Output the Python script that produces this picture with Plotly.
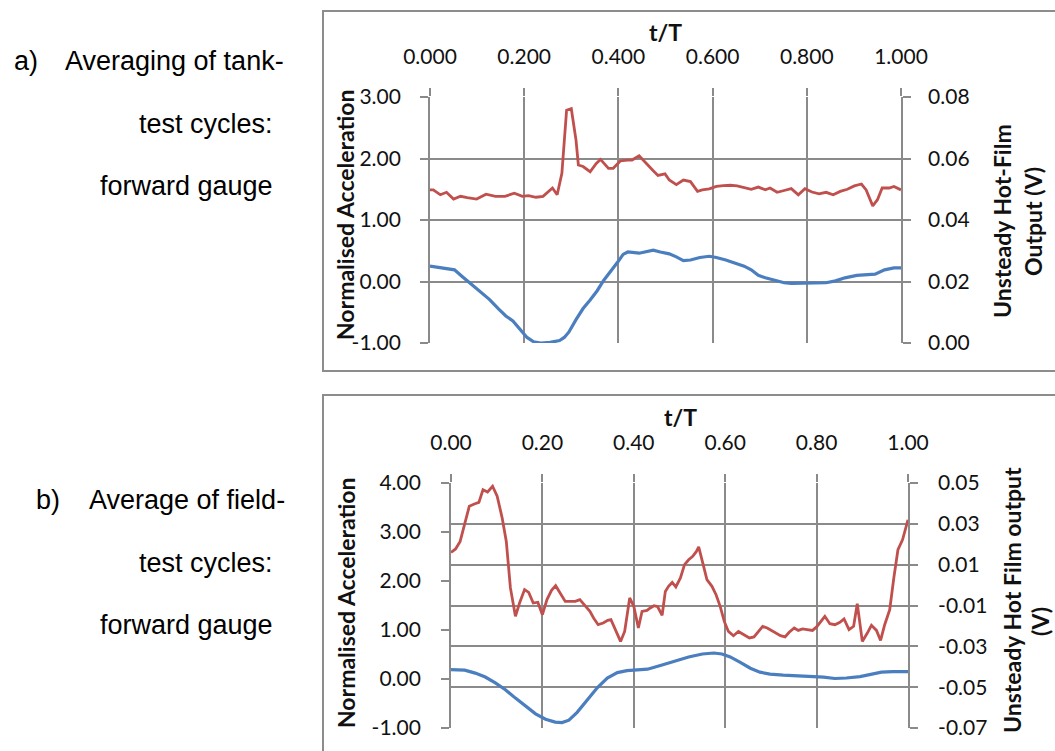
import plotly.graph_objects as go

W, H = 1055, 751

# ---------------- (a) tank-test cycles, forward gauge ----------------
tank_acc_t = [0.000, 0.017, 0.037, 0.052, 0.067, 0.086, 0.106, 0.126, 0.146, 0.161,
              0.176, 0.191, 0.206, 0.220, 0.235, 0.255, 0.275, 0.285, 0.295, 0.310,
              0.325, 0.340, 0.355, 0.369, 0.384, 0.399, 0.410, 0.420, 0.444, 0.459,
              0.474, 0.489, 0.508, 0.523, 0.538, 0.553, 0.573, 0.593, 0.608, 0.628,
              0.647, 0.667, 0.682, 0.697, 0.712, 0.732, 0.752, 0.767, 0.791, 0.816,
              0.841, 0.861, 0.881, 0.906, 0.930, 0.945, 0.965, 0.985, 1.000]
tank_acc = [0.25, 0.23, 0.21, 0.19, 0.09, -0.03, -0.15, -0.29, -0.45, -0.56,
            -0.64, -0.78, -0.91, -0.98, -1.00, -0.99, -0.96, -0.91, -0.82, -0.62,
            -0.44, -0.30, -0.15, 0.02, 0.16, 0.32, 0.44, 0.48, 0.46, 0.49,
            0.51, 0.48, 0.45, 0.40, 0.34, 0.35, 0.39, 0.41, 0.39, 0.35,
            0.30, 0.25, 0.19, 0.10, 0.06, 0.02, -0.02, -0.03, -0.03, -0.02,
            -0.02, 0.01, 0.06, 0.10, 0.11, 0.12, 0.19, 0.22, 0.22]

tank_hf_t = [0.000, 0.007, 0.022, 0.035, 0.050, 0.065, 0.079, 0.099, 0.119, 0.139,
             0.159, 0.179, 0.196, 0.209, 0.225, 0.240, 0.260, 0.270, 0.280, 0.290,
             0.300, 0.310, 0.315, 0.325, 0.340, 0.353, 0.362, 0.379, 0.389, 0.404,
             0.419, 0.429, 0.444, 0.454, 0.464, 0.474, 0.484, 0.499, 0.508, 0.523,
             0.538, 0.553, 0.568, 0.578, 0.593, 0.608, 0.623, 0.638, 0.652, 0.667,
             0.682, 0.697, 0.712, 0.722, 0.737, 0.752, 0.767, 0.782, 0.796, 0.811,
             0.826, 0.841, 0.856, 0.871, 0.886, 0.901, 0.916, 0.926, 0.940, 0.950,
             0.960, 0.975, 0.985, 1.000]
tank_hf = [0.0498, 0.0498, 0.0482, 0.0490, 0.0468, 0.0477, 0.0473, 0.0468, 0.0484, 0.0477,
           0.0477, 0.0487, 0.0477, 0.0479, 0.0474, 0.0477, 0.0504, 0.0482, 0.0552, 0.0757,
           0.0762, 0.0660, 0.0579, 0.0574, 0.0557, 0.0584, 0.0597, 0.0568, 0.0568, 0.0592,
           0.0595, 0.0595, 0.0609, 0.0592, 0.0577, 0.0560, 0.0545, 0.0550, 0.0530, 0.0515,
           0.0530, 0.0525, 0.0493, 0.0498, 0.0501, 0.0509, 0.0512, 0.0513, 0.0511, 0.0506,
           0.0500, 0.0507, 0.0498, 0.0504, 0.0490, 0.0496, 0.0502, 0.0482, 0.0502, 0.0491,
           0.0485, 0.0490, 0.0482, 0.0493, 0.0500, 0.0511, 0.0517, 0.0498, 0.0446, 0.0466,
           0.0504, 0.0504, 0.0509, 0.0498]

# ---------------- (b) field-test cycles, forward gauge ----------------
field_acc_t = [0.000, 0.030, 0.053, 0.075, 0.097, 0.119, 0.141, 0.163, 0.185, 0.207,
               0.228, 0.243, 0.258, 0.276, 0.298, 0.320, 0.342, 0.364, 0.385, 0.407,
               0.430, 0.460, 0.490, 0.520, 0.550, 0.575, 0.593, 0.611, 0.633, 0.655,
               0.676, 0.698, 0.727, 0.764, 0.793, 0.815, 0.840, 0.865, 0.895, 0.920,
               0.942, 0.967, 1.000]
field_acc = [0.19, 0.18, 0.12, 0.04, -0.08, -0.22, -0.39, -0.56, -0.71, -0.82,
             -0.88, -0.89, -0.84, -0.68, -0.43, -0.18, 0.02, 0.13, 0.17, 0.18,
             0.20, 0.28, 0.37, 0.45, 0.51, 0.53, 0.51, 0.45, 0.34, 0.22,
             0.14, 0.10, 0.08, 0.07, 0.06, 0.04, 0.01, 0.02, 0.05, 0.09,
             0.14, 0.15, 0.15]

field_hf_t = [0.000, 0.010, 0.020, 0.029, 0.040, 0.051, 0.061, 0.070, 0.080, 0.091,
              0.101, 0.112, 0.121, 0.130, 0.141, 0.150, 0.161, 0.170, 0.180, 0.190,
              0.200, 0.210, 0.220, 0.229, 0.239, 0.250, 0.261, 0.272, 0.282, 0.292,
              0.304, 0.312, 0.322, 0.333, 0.343, 0.350, 0.360, 0.371, 0.380, 0.391,
              0.400, 0.410, 0.418, 0.429, 0.436, 0.444, 0.452, 0.462, 0.469, 0.476,
              0.484, 0.492, 0.502, 0.511, 0.520, 0.529, 0.537, 0.542, 0.551, 0.560,
              0.571, 0.580, 0.589, 0.598, 0.607, 0.618, 0.629, 0.641, 0.653, 0.663,
              0.673, 0.682, 0.692, 0.702, 0.711, 0.721, 0.731, 0.740, 0.751, 0.760,
              0.769, 0.780, 0.791, 0.800, 0.809, 0.818, 0.829, 0.840, 0.851, 0.860,
              0.871, 0.881, 0.889, 0.900, 0.911, 0.920, 0.931, 0.940, 0.949, 0.960,
              0.969, 0.978, 0.988, 0.995, 1.000]
field_hf = [0.0160, 0.0177, 0.0214, 0.0288, 0.0386, 0.0397, 0.0405, 0.0467, 0.0456, 0.0484,
            0.0435, 0.0329, 0.0214, -0.0014, -0.0153, -0.0088, -0.0022, -0.0036, -0.0088, -0.0084,
            -0.0145, -0.0071, -0.0026, -0.0003, -0.0042, -0.0080, -0.0080, -0.0080, -0.0071, -0.0098,
            -0.0129, -0.0161, -0.0194, -0.0186, -0.0173, -0.0169, -0.0218, -0.0276, -0.0227, -0.0063,
            -0.0104, -0.0210, -0.0129, -0.0124, -0.0112, -0.0101, -0.0105, -0.0148, -0.0031, -0.0006,
            0.0013, -0.0009, 0.0035, 0.0100, 0.0124, 0.0141, 0.0165, 0.0187, 0.0108, 0.0027,
            -0.0006, -0.0047, -0.0104, -0.0178, -0.0227, -0.0248, -0.0227, -0.0243, -0.0259, -0.0254,
            -0.0227, -0.0202, -0.0210, -0.0222, -0.0235, -0.0248, -0.0254, -0.0231, -0.0210, -0.0222,
            -0.0215, -0.0218, -0.0222, -0.0205, -0.0178, -0.0153, -0.0189, -0.0194, -0.0182, -0.0166,
            -0.0218, -0.0202, -0.0091, -0.0276, -0.0235, -0.0197, -0.0222, -0.0271, -0.0194, -0.0120,
            0.0035, 0.0173, 0.0222, 0.0280, 0.0320]

# ---------------- tick values and labels ----------------
t_ticks = [0.0, 0.2, 0.4, 0.6, 0.8, 1.0]
t_labels_a = ["0.000", "0.200", "0.400", "0.600", "0.800", "1.000"]
t_labels_b = ["0.00", "0.20", "0.40", "0.60", "0.80", "1.00"]

acc_ticks_a = [-1, 0, 1, 2, 3]
acc_labels_a = ["-1.00", "0.00", "1.00", "2.00", "3.00"]
hf_ticks_a = [0.0, 0.02, 0.04, 0.06, 0.08]
hf_labels_a = ["0.00", "0.02", "0.04", "0.06", "0.08"]

acc_ticks_b = [-1, 0, 1, 2, 3, 4]
acc_labels_b = ["-1.00", "0.00", "1.00", "2.00", "3.00", "4.00"]
hf_ticks_b = [-0.07, -0.05, -0.03, -0.01, 0.01, 0.03, 0.05]
hf_labels_b = ["-0.07", "-0.05", "-0.03", "-0.01", "0.01", "0.03", "0.05"]

# ---------------- styling ----------------
BLUE = "#4A7EBF"
RED = "#C0504D"
GRID = "#8a8a8a"
FONT = "Lato, Carlito, Calibri, sans-serif"
TICKFONT = dict(family=FONT, size=21, color="#111111")


def px(x):
    return x / W


def py(y):
    return 1 - y / H


fig = go.Figure()
fig.add_trace(go.Scatter(x=tank_acc_t, y=tank_acc, mode="lines", xaxis="x", yaxis="y",
                         line=dict(color=BLUE, width=3.2), showlegend=False))
fig.add_trace(go.Scatter(x=tank_hf_t, y=tank_hf, mode="lines", xaxis="x", yaxis="y2",
                         line=dict(color=RED, width=2.8), showlegend=False))
fig.add_trace(go.Scatter(x=field_acc_t, y=field_acc, mode="lines", xaxis="x2", yaxis="y3",
                         line=dict(color=BLUE, width=3.2), showlegend=False))
fig.add_trace(go.Scatter(x=field_hf_t, y=field_hf, mode="lines", xaxis="x2", yaxis="y4",
                         line=dict(color=RED, width=2.8), showlegend=False))

common_axis = dict(zeroline=False, automargin=False, tickfont=TICKFONT, tickcolor=GRID,
                   tickwidth=1.5, gridcolor=GRID, gridwidth=1.8, linecolor=GRID,
                   linewidth=1.8)


def xaxis(domain, anchor, labels):
    return dict(common_axis, domain=domain, anchor=anchor, side="top", range=[0, 1],
                tickmode="array", tickvals=t_ticks, ticktext=labels,
                showgrid=True, showline=False, ticks="outside", ticklen=8,
                ticklabelstandoff=16)


def yaxis(domain, anchor, rng, vals, labels, side="left", grid=True, overlay=None,
          standoff=14):
    d = dict(common_axis, anchor=anchor, side=side, range=rng, tickmode="array",
             tickvals=vals, ticktext=labels, showgrid=grid, showline=True,
             ticks="outside", ticklen=8, ticklabelstandoff=standoff)
    if overlay:
        d["overlaying"] = overlay
    else:
        d["domain"] = domain
    return d


top_x = [px(430), px(901)]
top_y = [py(343), py(97)]
bot_x = [px(451), px(908)]
bot_y = [py(728), py(483)]

fig.update_layout(
    template="none",
    width=W, height=H,
    margin=dict(l=0, r=0, t=0, b=0, pad=0, autoexpand=False),
    paper_bgcolor="white", plot_bgcolor="white",
    showlegend=False,
    xaxis=xaxis(top_x, "y", t_labels_a),
    yaxis=yaxis(top_y, "x", [-1, 3], acc_ticks_a, acc_labels_a, standoff=15),
    yaxis2=yaxis(None, "x", [0, 0.08], hf_ticks_a, hf_labels_a, side="right",
                 grid=False, overlay="y", standoff=13),
    xaxis2=xaxis(bot_x, "y3", t_labels_b),
    yaxis3=yaxis(bot_y, "x2", [-1, 4], acc_ticks_b, acc_labels_b, grid=False, standoff=16),
    yaxis4=yaxis(None, "x2", [-0.07, 0.05], hf_ticks_b, hf_labels_b, side="right",
                 grid=True, overlay="y3", standoff=16),
)

# chart frames
fig.add_shape(type="rect", xref="paper", yref="paper", x0=px(323), x1=1.02,
              y0=py(371), y1=py(11), line=dict(color="#8c8c8c", width=2), layer="below")
fig.add_shape(type="rect", xref="paper", yref="paper", x0=px(323), x1=1.02,
              y0=-0.05, y1=py(395), line=dict(color="#8c8c8c", width=2), layer="below")

TITLEFONT = dict(family=FONT, size=23, color="#111111")


def title(text, x, y, angle=0):
    fig.add_annotation(text=f"<b>{text}</b>", x=px(x), y=py(y), xref="paper", yref="paper",
                       showarrow=False, textangle=angle, font=TITLEFONT,
                       xanchor="center", yanchor="middle")


title("t/T", 665, 32)
title("Normalised Acceleration", 345, 215, -90)
title("Unsteady Hot-Film", 1002, 221, -90)
title("Output (V)", 1033, 222, -90)

title("t/T", 680, 417)
title("Normalised Acceleration", 346, 603, -90)
title("Unsteady Hot Film output", 1012, 600, -90)
title("(V)", 1040, 622, -90)

# panel captions on the left
CAPFONT = dict(family="Liberation Sans, Arial, sans-serif", size=27, color="#000000")


def caption(text, x, y, anchor):
    fig.add_annotation(text=text, x=px(x), y=py(y), xref="paper", yref="paper",
                       showarrow=False, font=CAPFONT, xanchor=anchor, yanchor="middle")


caption("a)", 12, 61, "left")
caption("Averaging of tank-", 63, 61, "left")
caption("test cycles:", 275, 124, "right")
caption("forward gauge", 275, 186, "right")

caption("b)", 34, 500, "left")
caption("Average of field-", 87, 500, "left")
caption("test cycles:", 275, 563, "right")
caption("forward gauge", 275, 625, "right")

fig.write_html("out.html")
